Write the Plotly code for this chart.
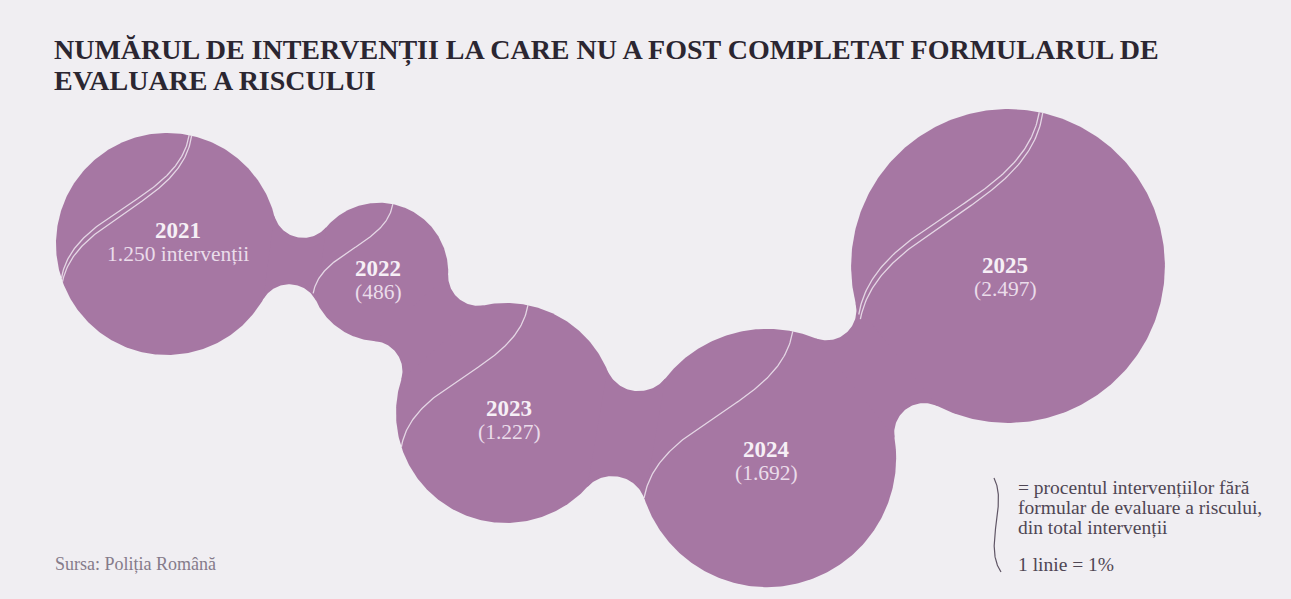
import numpy as np
import plotly.graph_objects as go

# ---------------- data ----------------
years = ["2021", "2022", "2023", "2024", "2025"]
interventions = [1250, 486, 1227, 1692, 2497]
count_labels = ["1.250 intervenții", "(486)", "(1.227)", "(1.692)", "(2.497)"]
pct_no_form = [2, 1, 1, 1, 2]  # 1 line = 1%

title_lines = ["NUMĂRUL DE INTERVENȚII LA CARE NU A FOST COMPLETAT FORMULARUL DE",
               "EVALUARE A RISCULUI"]
legend_lines = ["= procentul intervențiilor fără",
                "formular de evaluare a riscului,",
                "din total intervenții"]
legend_unit = "1 linie = 1%"
source_text = "Sursa: Poliția Română"

# ---------------- layout (pixel space) ----------------
W, H = 1291, 599
cx = [167, 379, 506, 767, 1008]
cy = [244, 272, 413, 458, 266]
label_dx = [11, -1, 3, -1, -3]
label_dy = [-14, -4, -5, -9, -1]
K = 3.14
fillet_r = [30, 30, 34, 30]

BG = "#f0eef2"
BLOB = "#a677a3"
LINE_C = "rgba(238,230,240,0.85)"
SERIF = "Liberation Serif, Times New Roman, serif"

radii = [K * np.sqrt(v) for v in interventions]

fig = go.Figure()


def add_poly(xs, ys):
    fig.add_trace(go.Scatter(x=xs, y=ys, mode="lines", fill="toself",
                             fillcolor=BLOB, line=dict(width=0, color=BLOB),
                             hoverinfo="skip", showlegend=False))


# circles
t = np.linspace(0, 2 * np.pi, 361)
for x0, y0, r in zip(cx, cy, radii):
    add_poly(x0 + r * np.cos(t), y0 + r * np.sin(t))


def connector(c1, r1, c2, r2, rf, n=50):
    c1 = np.array(c1, float)
    c2 = np.array(c2, float)
    d = np.linalg.norm(c2 - c1)
    u = (c2 - c1) / d
    nrm = np.array([-u[1], u[0]])
    a, b = r1 + rf, r2 + rf
    x = (a * a - b * b + d * d) / (2 * d)
    h = np.sqrt(max(a * a - x * x, 0))
    sides = []
    for s in (1, -1):
        F = c1 + x * u + s * h * nrm
        T1 = c1 + r1 * (F - c1) / a
        T2 = c2 + r2 * (F - c2) / b
        t1 = np.arctan2(T1[1] - F[1], T1[0] - F[0])
        t2 = np.arctan2(T2[1] - F[1], T2[0] - F[0])
        dt = (t2 - t1 + np.pi) % (2 * np.pi) - np.pi
        ts = t1 + np.linspace(0, 1, n) * dt
        sides.append(F[None, :] + rf * np.c_[np.cos(ts), np.sin(ts)])
    poly = np.vstack([sides[0], sides[1][::-1], sides[0][:1]])
    return poly[:, 0], poly[:, 1]


for i in range(len(years) - 1):
    px, py = connector((cx[i], cy[i]), radii[i], (cx[i + 1], cy[i + 1]),
                       radii[i + 1], fillet_r[i])
    add_poly(px, py)


def bezier(P0, P1, P2, P3, n=120):
    s = np.linspace(0, 1, n)[:, None]
    return ((1 - s) ** 3 * P0 + 3 * (1 - s) ** 2 * s * P1
            + 3 * (1 - s) * s ** 2 * P2 + s ** 3 * P3)


# percentage lines (1 line = 1%)
for x0, y0, r, nl in zip(cx, cy, radii, pct_no_form):
    c = np.array([x0, y0], float)
    for j in range(nl):
        a0 = np.deg2rad(-78.5 + 1.3 * j)
        a1 = np.deg2rad(162.0 - 1.8 * j)
        P0 = c + r * np.array([np.cos(a0), np.sin(a0)])
        P3 = c + r * np.array([np.cos(a1), np.sin(a1)])
        P1 = P0 + r * np.array([-0.1, 0.6]) + np.array([1.5 * j, 2.5 * j])
        P2 = P3 + r * np.array([0.1, -0.6]) + np.array([1.5 * j, 2.5 * j])
        pts = bezier(P0, P1, P2, P3)
        fig.add_trace(go.Scatter(x=pts[:, 0], y=pts[:, 1], mode="lines",
                                 line=dict(color=LINE_C, width=1.3),
                                 hoverinfo="skip", showlegend=False))

# legend bracket (a sample line)
br = bezier(np.array([994.0, 478]), np.array([1008.0, 505]),
            np.array([983.0, 545]), np.array([1001.0, 572]))
fig.add_trace(go.Scatter(x=br[:, 0], y=br[:, 1], mode="lines",
                         line=dict(color="#5f5565", width=1.2),
                         hoverinfo="skip", showlegend=False))

annotations = []
for i in range(len(years)):
    tx = cx[i] + label_dx[i]
    ty = cy[i] + label_dy[i]
    annotations.append(dict(x=tx, y=ty, text="<b>" + years[i] + "</b>",
                            showarrow=False, xanchor="center", yanchor="middle",
                            font=dict(family=SERIF, size=23, color="#f6eff6")))
    annotations.append(dict(x=tx, y=ty + 24, text=count_labels[i],
                            showarrow=False, xanchor="center", yanchor="middle",
                            font=dict(family=SERIF, size=21.5, color="#eadcea")))

for k, line in enumerate(title_lines):
    annotations.append(dict(x=52, y=50 + 30 * k, text="<b>" + line + "</b>",
                            showarrow=False, xanchor="left", yanchor="middle",
                            font=dict(family=SERIF, size=28, color="#2b2631")))

for k, line in enumerate(legend_lines):
    annotations.append(dict(x=1016, y=487 + 20 * k, text=line,
                            showarrow=False, xanchor="left", yanchor="middle",
                            font=dict(family=SERIF, size=19.5, color="#4f4654")))
annotations.append(dict(x=1016, y=564, text=legend_unit,
                        showarrow=False, xanchor="left", yanchor="middle",
                        font=dict(family=SERIF, size=19.5, color="#4f4654")))
annotations.append(dict(x=53, y=564, text=source_text,
                        showarrow=False, xanchor="left", yanchor="middle",
                        font=dict(family=SERIF, size=18, color="#857b8a")))

fig.update_layout(
    width=W, height=H, autosize=False,
    margin=dict(l=0, r=0, t=0, b=0, pad=0),
    paper_bgcolor=BG, plot_bgcolor=BG,
    xaxis=dict(range=[0, W], visible=False, fixedrange=True),
    yaxis=dict(range=[H, 0], visible=False, fixedrange=True),
    annotations=annotations,
    showlegend=False,
)

fig.write_html("out.html", config={"displayModeBar": False},
               post_script="document.body.style.margin='0';document.body.style.overflow='hidden';")
